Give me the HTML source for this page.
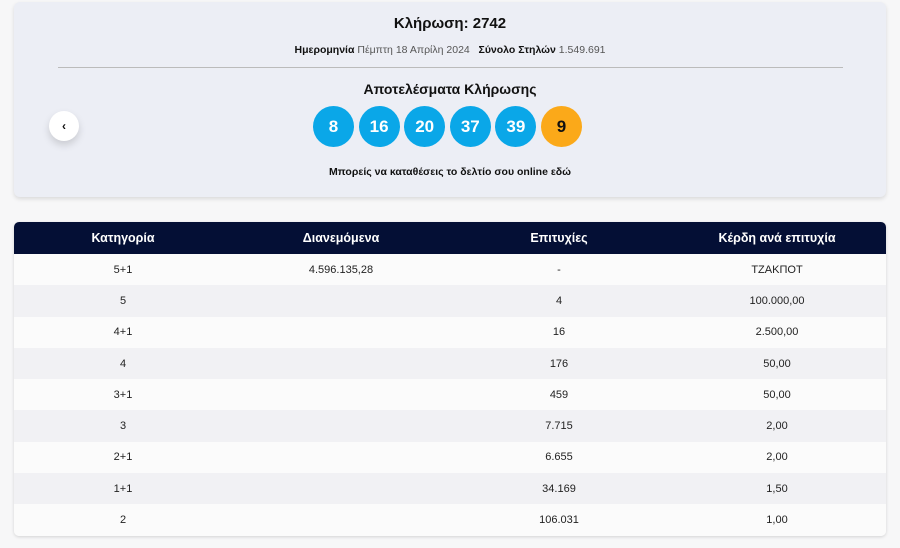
<!DOCTYPE html>
<html><head><meta charset="utf-8"><style>
*{margin:0;padding:0;box-sizing:border-box}
body{width:900px;height:548px;background:#f7f7f8;font-family:"Liberation Sans","Noto Sans CJK SC",sans-serif;color:#111;position:relative;overflow:hidden}
.card{position:absolute;left:14px;top:2px;width:872px;height:195px;background:#eceef5;border-radius:6px;box-shadow:0 2px 4px rgba(0,0,0,.12)}
.abs{position:absolute;left:0;width:100%;text-align:center}
.t1{top:13px;font-size:15px;font-weight:bold}
.t2{top:42px;font-size:10.5px;color:#555}
.t2 b{color:#111}
.line{position:absolute;left:44px;width:785px;top:65px;height:1px;background:#bbb}
.t3{top:79px;font-size:14px;font-weight:bold}
.balls{position:absolute;top:104px;left:299px;display:flex;gap:4.6px}
.ball{width:41px;height:41px;border-radius:50%;background:#0aa7e8;color:#fff;font-size:17px;font-weight:bold;display:flex;align-items:center;justify-content:center}
.ball.o{background:#fba919;color:#111}
.back{position:absolute;left:35px;top:109px;width:30px;height:30px;border-radius:50%;background:#fff;box-shadow:0 4px 8px rgba(0,0,0,.15);font-size:12px;display:flex;align-items:center;justify-content:center;font-weight:bold}
.t4{top:164px;font-size:10.5px;font-weight:bold}
table{position:absolute;left:14px;top:222px;width:872px;border-collapse:collapse;border-radius:5px;overflow:hidden;box-shadow:0 1px 3px rgba(0,0,0,.15)}
th{background:#040f35;color:#fff;height:32px;font-size:12.5px;width:218px;font-weight:bold}
td{height:31.3px;text-align:center;font-size:11px;color:#222}
tr:nth-child(odd) td{background:#fbfbfb}
tr:nth-child(even) td{background:#f1f1f4}
</style></head><body>
<div class="card">
<div class="abs t1">Κλήρωση: 2742</div>
<div class="abs t2"><b>Ημερομηνία</b> Πέμπτη 18 Απρίλη 2024 &nbsp; <b>Σύνολο Στηλών</b> 1.549.691</div>
<div class="line"></div>
<div class="abs t3">Αποτελέσματα Κλήρωσης</div>
<div class="back">‹</div>
<div class="balls"><div class="ball">8</div><div class="ball">16</div><div class="ball">20</div><div class="ball">37</div><div class="ball">39</div><div class="ball o">9</div></div>
<div class="abs t4">Μπορείς να καταθέσεις το δελτίο σου online <span style="font-weight:900">εδώ</span></div>
</div>
<table>
<thead><tr><th>Κατηγορία</th><th>Διανεμόμενα</th><th>Επιτυχίες</th><th>Κέρδη ανά επιτυχία</th></tr></thead>
<tbody>
<tr><td>5+1</td><td>4.596.135,28</td><td>-</td><td>ΤΖΑΚΠΟΤ</td></tr>
<tr><td>5</td><td></td><td>4</td><td>100.000,00</td></tr>
<tr><td>4+1</td><td></td><td>16</td><td>2.500,00</td></tr>
<tr><td>4</td><td></td><td>176</td><td>50,00</td></tr>
<tr><td>3+1</td><td></td><td>459</td><td>50,00</td></tr>
<tr><td>3</td><td></td><td>7.715</td><td>2,00</td></tr>
<tr><td>2+1</td><td></td><td>6.655</td><td>2,00</td></tr>
<tr><td>1+1</td><td></td><td>34.169</td><td>1,50</td></tr>
<tr><td>2</td><td></td><td>106.031</td><td>1,00</td></tr>
</tbody></table>
</body></html>
